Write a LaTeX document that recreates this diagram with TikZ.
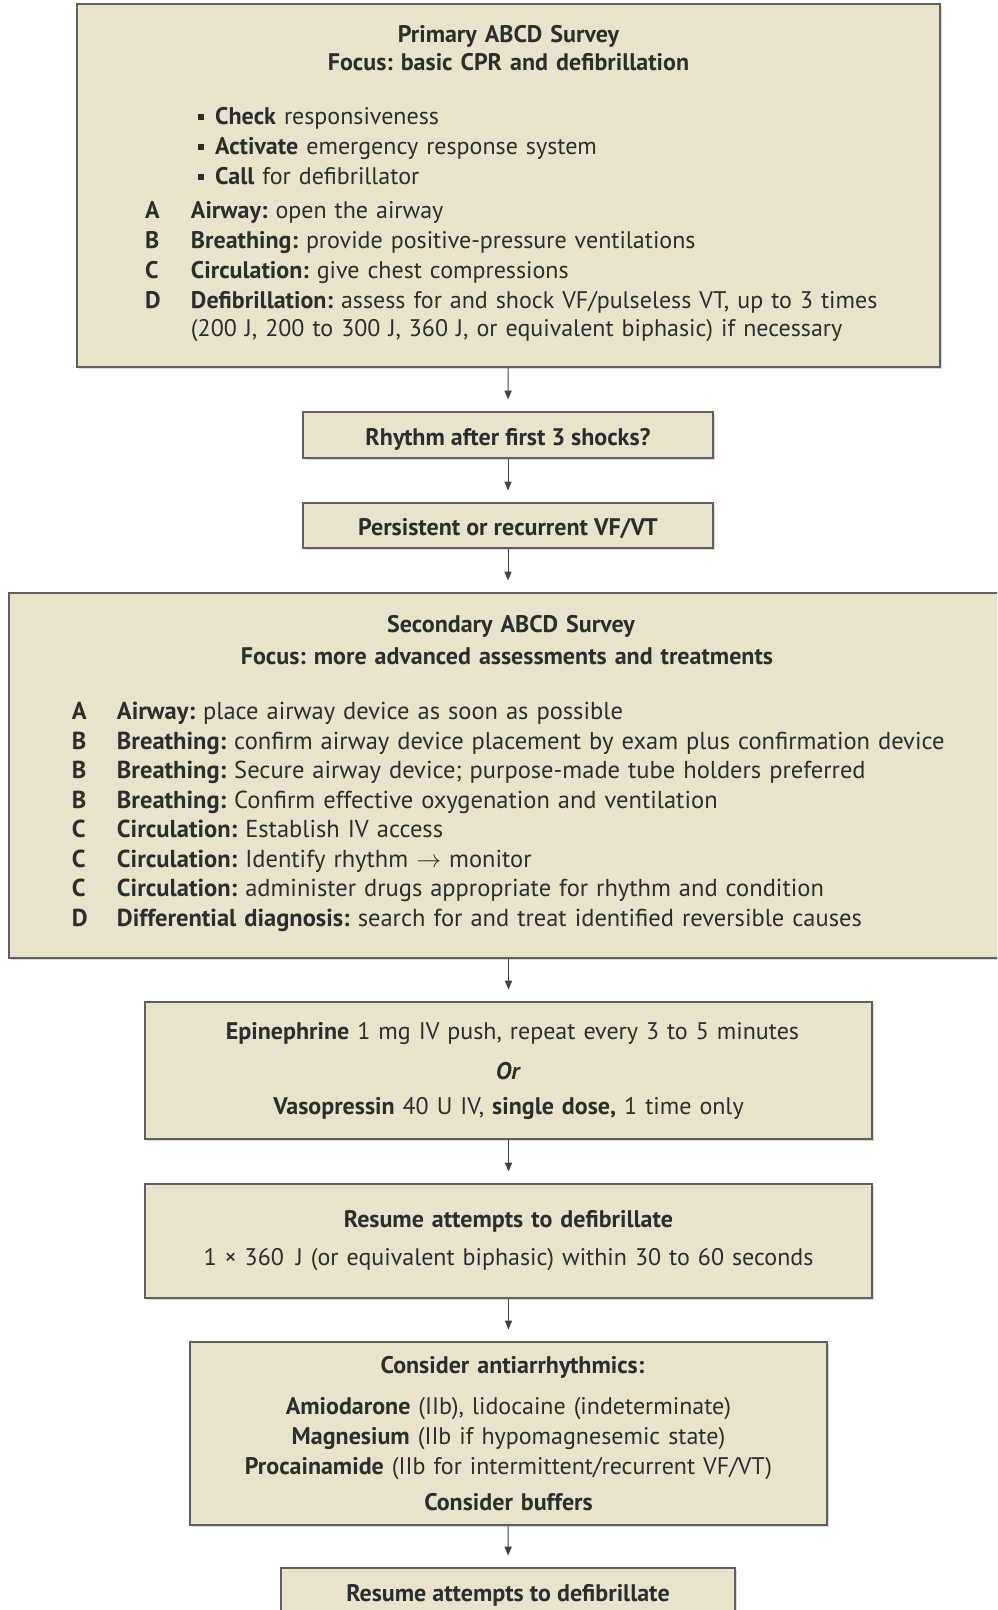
\documentclass[tikz,border=0pt]{standalone}
\usepackage{fontspec}
\setmainfont{PT Sans}
\usetikzlibrary{arrows,shadows}
\definecolor{boxfill}{RGB}{233,227,204}
\definecolor{boxline}{RGB}{95,95,95}
\definecolor{inktext}{RGB}{45,45,45}
\newcommand{\sqbullet}{\rule[0.2em]{0.26em}{0.26em}}
\frenchspacing

\begin{document}
\begin{tikzpicture}[x=1pt,y=1pt,
	bodyfont/.style={font=\fontsize{24}{30}\selectfont}]
	%\draw[help lines,step=50] (0,0) grid (997,-1610);
	\tikzstyle{flowbox} = [draw=boxline,line width=1.2pt,fill=boxfill,text=inktext,inner sep=0pt,bodyfont,
		drop shadow={shadow xshift=1.5pt,shadow yshift=-1.5pt,opacity=0.3}]
	\tikzstyle{linebox} = [flowbox,text height=24pt,text depth=3.5pt]
	\tikzstyle{edge} = [->,>=triangle 45,line width=1pt,draw=boxline!70!black,shorten >=12pt]
	\useasboundingbox (0,0) rectangle (997,-1610);
	\clip (0,0) rectangle (997,-1610);

	\node[flowbox,minimum width=863pt,minimum height=363pt,text width=863pt,align=left] (primary) at (508.5,-185.5) {
		{\centering\fontsize{24}{28}\selectfont\bfseries Primary ABCD Survey\\Focus: basic CPR and defibrillation\par}
		\vspace{24pt}
		\noindent\hspace*{68pt}\begin{tabular}[t]{@{}p{46pt}@{}l@{}}
			& \hspace*{7pt}\sqbullet\hspace{11pt}\textbf{Check} responsiveness\\
			& \hspace*{7pt}\sqbullet\hspace{11pt}\textbf{Activate} emergency response system\\
			& \hspace*{7pt}\sqbullet\hspace{11pt}\textbf{Call} for defibrillator\\[3.5pt]
			\textbf{A} & \textbf{Airway:} open the airway\\
			\textbf{B} & \textbf{Breathing:} provide positive-pressure ventilations\\
			\textbf{C} & \textbf{Circulation:} give chest compressions\\
			\textbf{D} & \textbf{Defibrillation:} assess for and shock VF/pulseless VT, up to 3 times\\[-2pt]
			& (200 J, 200 to 300 J, 360 J, or equivalent biphasic) if necessary
		\end{tabular}
	};
	\node[linebox,minimum width=410pt,minimum height=46pt] (rhythm) at (508,-435) {\textbf{Rhythm after first 3 shocks?}};
	\node[linebox,minimum width=410pt,minimum height=45pt] (persist) at (508,-525.5) {\textbf{Persistent or recurrent VF/VT}};

	\node[flowbox,minimum width=996pt,minimum height=365pt,text width=996pt,align=left] (secondary) at (507,-775.5) {
		\vspace{4pt}
		{\centering\fontsize{24}{28}\selectfont\bfseries Secondary ABCD Survey\\Focus: more advanced assessments and treatments\par}
		\vspace{25pt}
		\noindent\hspace*{63pt}{\fontsize{24.5}{29.5}\selectfont\begin{tabular}[t]{@{}p{45pt}@{}l@{}}
			\textbf{A} & \textbf{Airway:} place airway device as soon as possible\\
			\textbf{B} & \textbf{Breathing:} confirm airway device placement by exam plus confirmation device\\
			\textbf{B} & \textbf{Breathing:} Secure airway device; purpose-made tube holders preferred\\
			\textbf{B} & \textbf{Breathing:} Confirm effective oxygenation and ventilation\\
			\textbf{C} & \textbf{Circulation:} Establish IV access\\
			\textbf{C} & \textbf{Circulation:} Identify rhythm $\rightarrow$ monitor\\
			\textbf{C} & \textbf{Circulation:} administer drugs appropriate for rhythm and condition\\
			\textbf{D} & \textbf{Differential diagnosis:} search for and treat identified reversible causes
		\end{tabular}}
	};

	\node[flowbox,minimum width=727pt,minimum height=137pt,text width=727pt,align=center] (epi) at (508.5,-1070.5) {
		\vspace{9pt}
		\textbf{Epinephrine} 1 mg IV push, repeat every 3 to 5 minutes\\[1pt]
		\textbf{\textit{Or}}\\[5pt]
		\textbf{Vasopressin} 40 U IV, \textbf{single dose,} 1 time only
	};
	\node[flowbox,minimum width=727pt,minimum height=114pt,text width=727pt,align=center] (resume) at (508.5,-1241) {
		\textbf{Resume attempts to defibrillate}\\[8pt]
		1 × 360\enspace J (or equivalent biphasic) within 30 to 60 seconds
	};
	\node[flowbox,minimum width=637pt,minimum height=183pt,text width=637pt,align=center] (antiarr) at (508.5,-1433.5) {
		\vspace{8pt}
		\textbf{Consider antiarrhythmics:}\\[3pt]
		\textbf{Amiodarone} (IIb), lidocaine (indeterminate)\\
		\textbf{Magnesium} (IIb if hypomagnesemic state)\\
		\textbf{Procainamide} (IIb for intermittent/recurrent VF/VT)\\[6pt]
		\textbf{Consider buffers}
	};
	\node[linebox,minimum width=454pt,minimum height=46pt] (resumeb) at (508,-1591) {\textbf{Resume attempts to defibrillate}};

	\draw[edge] (primary) -- (rhythm);
	\draw[edge] (rhythm) -- (persist);
	\draw[edge] (persist.south) -- (persist.south |- secondary.north);
	\draw[edge] (secondary.south -| epi.north) -- (epi.north);
	\draw[edge] (epi) -- (resume);
	\draw[edge] (resume) -- (antiarr);
	\draw[edge] (antiarr) -- (resumeb);
\end{tikzpicture}
\end{document}
